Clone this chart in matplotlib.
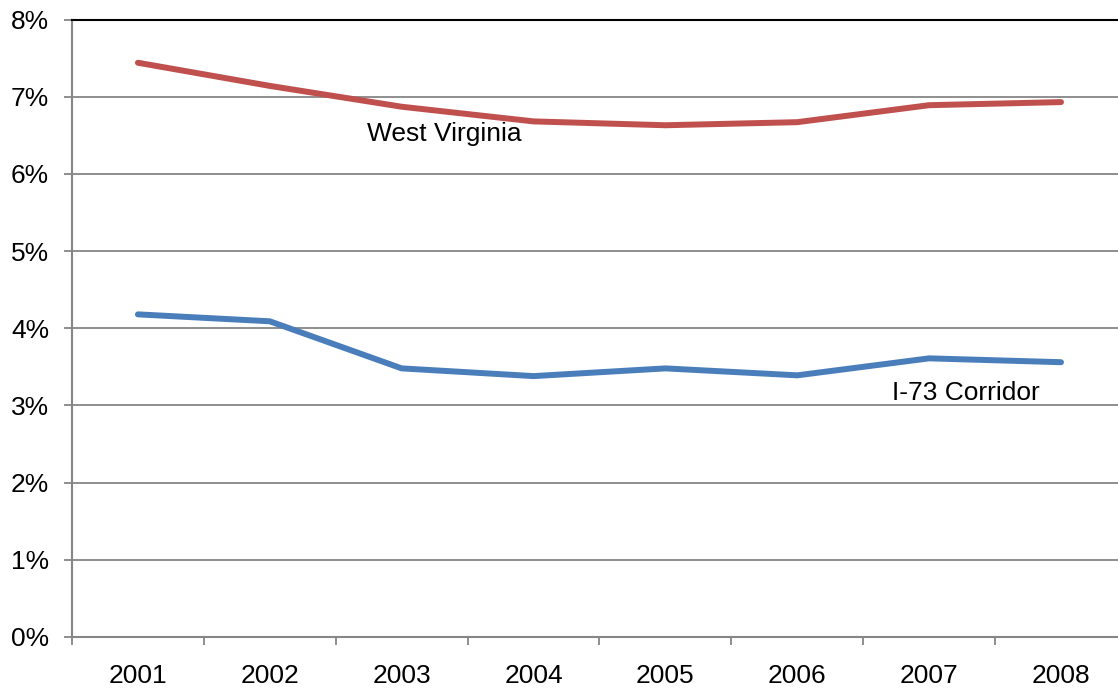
import numpy as np
import matplotlib.pyplot as plt
from matplotlib.ticker import FixedLocator, PercentFormatter

plt.rcParams['font.family'] = ['Liberation Sans', 'DejaVu Sans']

years = ['2001', '2002', '2003', '2004', '2005', '2006', '2007', '2008']
west_virginia = [7.44, 7.14, 6.87, 6.68, 6.63, 6.67, 6.89, 6.93]
i73_corridor = [4.18, 4.09, 3.48, 3.38, 3.48, 3.39, 3.61, 3.56]
yticks = [0, 1, 2, 3, 4, 5, 6, 7, 8]

red = '#C0504D'
blue = '#4A7EBB'
grid_c = '#868686'

fig = plt.figure(figsize=(11.18, 6.92), dpi=100)
ax = fig.add_axes([0.0644, 0.0795, 1.008 - 0.0644, 0.9718 - 0.0795])

x = np.arange(len(years))
ax.plot(x, west_virginia, color=red, lw=4.3, solid_capstyle='round', solid_joinstyle='round', zorder=3)
ax.plot(x, i73_corridor, color=blue, lw=4.3, solid_capstyle='round', solid_joinstyle='round', zorder=3)

ax.set_xlim(-0.5, len(years) - 0.5)
ax.set_ylim(0, 8)
ax.set_yticks(yticks)
ax.yaxis.set_major_formatter(PercentFormatter(decimals=0))
ax.grid(axis='y', color=grid_c, lw=1.3)
ax.set_axisbelow(True)

# category boundaries as ticks, labels in the middle
ax.xaxis.set_major_locator(FixedLocator(np.arange(-0.5, len(years), 1.0)))
ax.xaxis.set_minor_locator(FixedLocator(x))
ax.set_xticklabels([], minor=False)
ax.set_xticklabels(years, minor=True)
ax.tick_params(axis='x', which='major', length=6, width=1.3, color=grid_c, direction='out')
ax.tick_params(axis='x', which='minor', length=0, pad=19.5, labelsize=19)
ax.tick_params(axis='y', length=6, width=1.3, color=grid_c, pad=10.5, labelsize=19)

for s in ['left', 'bottom']:
    ax.spines[s].set_color(grid_c)
    ax.spines[s].set_linewidth(1.5)
ax.spines['top'].set_color('black')
ax.spines['top'].set_linewidth(1.5)
ax.spines['right'].set_visible(False)

ax.text(2.32, 6.43, 'West Virginia', fontsize=19, ha='center', va='baseline')
ax.text(6.28, 3.07, 'I-73 Corridor', fontsize=19, ha='center', va='baseline')

plt.savefig('out.png', dpi=100)
